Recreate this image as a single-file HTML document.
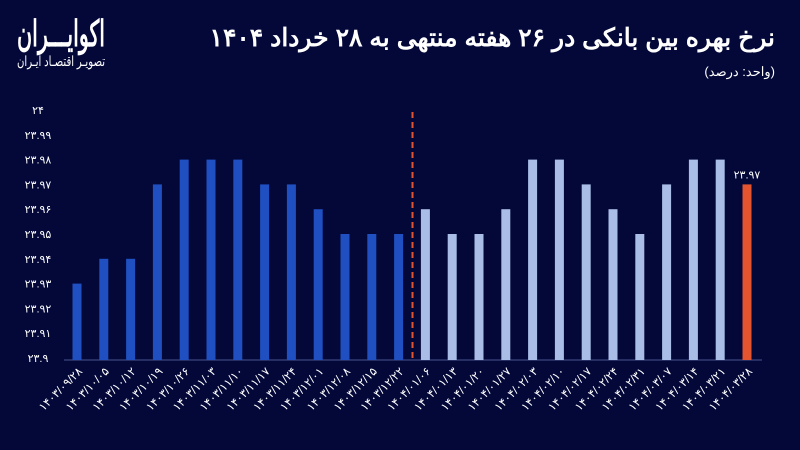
<!DOCTYPE html>
<html><head><meta charset="utf-8"><style>
body{margin:0;width:800px;height:450px;background:#030838;overflow:hidden;font-family:"Liberation Sans","Noto Sans CJK SC",sans-serif;}
svg{display:block}
</style></head><body>
<svg width="800" height="450">
<text x="775" y="46" text-anchor="end" fill="#fff" font-size="25" font-weight="bold">نرخ بهره بین بانکی در ۲۶ هفته منتهی به ۲۸ خرداد ۱۴۰۴</text>
<text x="775" y="76" text-anchor="end" fill="#fff" font-size="13">(واحد: درصد)</text>
<text x="61" y="46" text-anchor="middle" fill="#fff" font-size="36" font-weight="bold" textLength="88" lengthAdjust="spacingAndGlyphs">اکوایـــران</text>
<text x="61" y="66" text-anchor="middle" fill="#fff" font-size="14" textLength="88" lengthAdjust="spacingAndGlyphs">تصویـر اقتصـاد ایـران</text>
<g id="g"></g>
</svg>
<script>
const categories=["۱۴۰۳/۰۹/۲۸","۱۴۰۳/۱۰/۰۵","۱۴۰۳/۱۰/۱۲","۱۴۰۳/۱۰/۱۹","۱۴۰۳/۱۰/۲۶","۱۴۰۳/۱۱/۰۳","۱۴۰۳/۱۱/۱۰","۱۴۰۳/۱۱/۱۷","۱۴۰۳/۱۱/۲۴","۱۴۰۳/۱۲/۰۱","۱۴۰۳/۱۲/۰۸","۱۴۰۳/۱۲/۱۵","۱۴۰۳/۱۲/۲۲","۱۴۰۴/۰۱/۰۶","۱۴۰۴/۰۱/۱۳","۱۴۰۴/۰۱/۲۰","۱۴۰۴/۰۱/۲۷","۱۴۰۴/۰۲/۰۳","۱۴۰۴/۰۲/۱۰","۱۴۰۴/۰۲/۱۷","۱۴۰۴/۰۲/۲۴","۱۴۰۴/۰۲/۳۱","۱۴۰۴/۰۳/۰۷","۱۴۰۴/۰۳/۱۴","۱۴۰۴/۰۳/۲۱","۱۴۰۴/۰۳/۲۸"];
const values=[23.93,23.94,23.94,23.97,23.98,23.98,23.98,23.97,23.97,23.96,23.95,23.95,23.95,23.96,23.95,23.95,23.96,23.98,23.98,23.97,23.96,23.95,23.97,23.98,23.98,23.97];
const yTicks=[23.9,23.91,23.92,23.93,23.94,23.95,23.96,23.97,23.98,23.99,24];
const yTickLabels=["۲۳.۹","۲۳.۹۱","۲۳.۹۲","۲۳.۹۳","۲۳.۹۴","۲۳.۹۵","۲۳.۹۶","۲۳.۹۷","۲۳.۹۸","۲۳.۹۹","۲۴"];
const lastLabel="۲۳.۹۷";
const NS="http://www.w3.org/2000/svg",g=document.getElementById('g');
const y=v=>358-(v-23.9)/0.1*248;
const x=i=>77+i*26.8;
function mk(t,a){const e=document.createElementNS(NS,t);for(const k in a)e.setAttribute(k,a[k]);g.appendChild(e);return e;}
yTicks.forEach((v,i)=>{const t=mk('text',{x:38,y:y(v)+4,'text-anchor':'middle',fill:'#fff','font-size':11});t.textContent=yTickLabels[i];

});
const ax=mk('line',{x1:64,x2:762,y1:360,y2:360,stroke:'#4a5590','stroke-width':1});


values.forEach((v,i)=>{const last=i===values.length-1;const fill=last?'#e4542e':(i<13?'#1f4fc0':'#a9bde6');
const r=mk('rect',{x:x(i)-4.5,y:y(v),width:9,height:360-y(v),fill});


const cx=x(i)+6,cy=372;const t=mk('text',{x:cx,y:cy,'text-anchor':'end',fill:'#fff','font-size':11.5,transform:`rotate(-45 ${cx} ${cy})`});t.textContent=categories[i];

});
const dl=mk('line',{x1:412.5,x2:412.5,y1:112,y2:358,stroke:'#e4542e','stroke-width':2,'stroke-dasharray':'6,4'});


const vl=mk('text',{x:x(values.length-1),y:y(values[values.length-1])-6,'text-anchor':'middle',fill:'#fff','font-size':11});vl.textContent=lastLabel;


</script>
</body></html>
